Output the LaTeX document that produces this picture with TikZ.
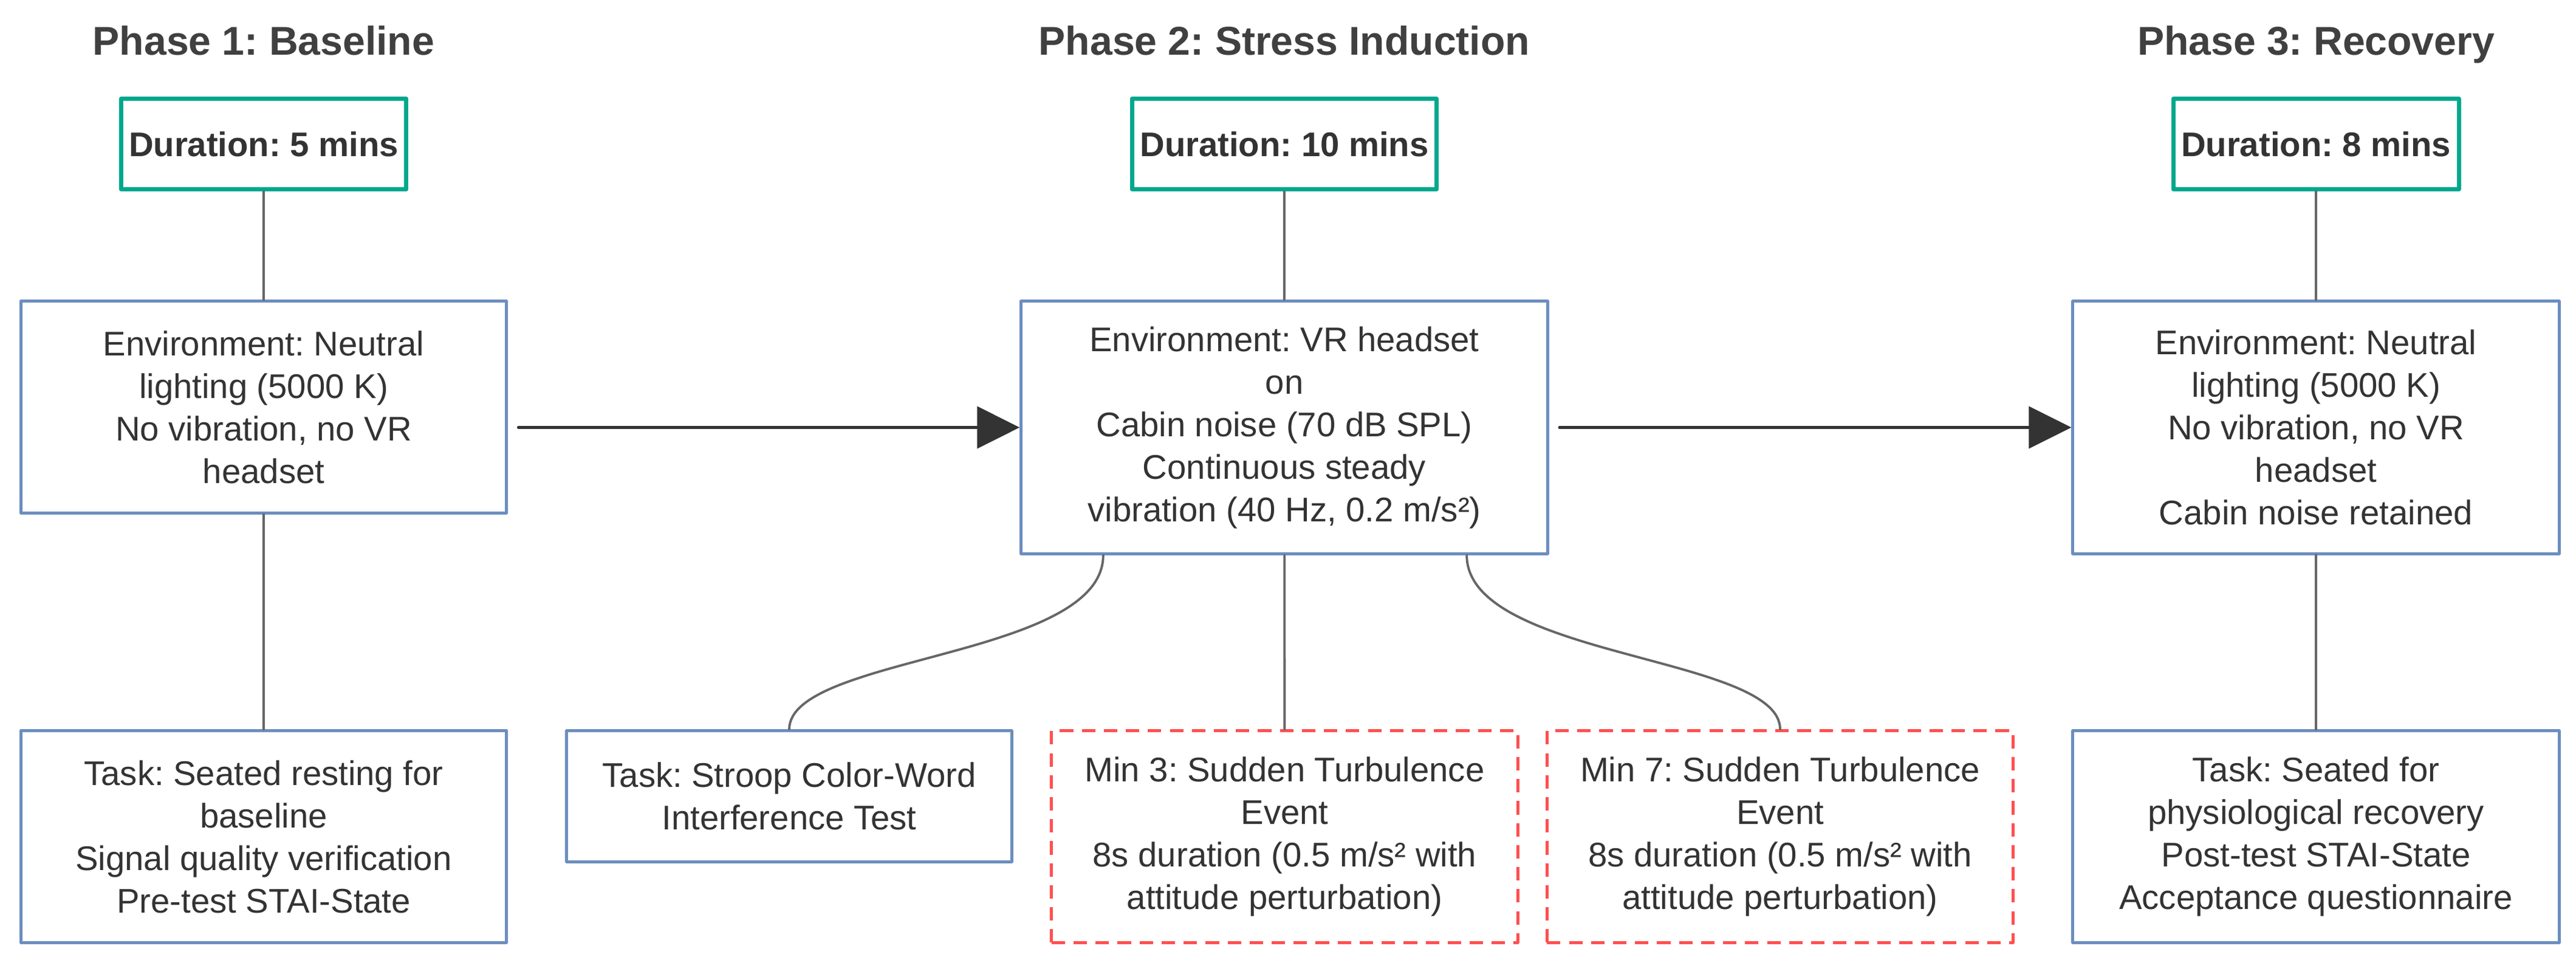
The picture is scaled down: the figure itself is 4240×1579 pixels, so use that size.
\documentclass[tikz,border=0pt]{standalone}
\usepackage{fontspec}
\setmainfont{Liberation Sans}
\frenchspacing
\usetikzlibrary{arrows.meta}
\definecolor{tealbox}{HTML}{00A88E}
\definecolor{bluebox}{HTML}{6C8EBF}
\definecolor{redbox}{HTML}{FF5050}
\definecolor{linegray}{HTML}{666666}
\definecolor{arrowgray}{HTML}{333333}
\definecolor{txt}{HTML}{333333}
\definecolor{titlegray}{HTML}{404040}
\begin{document}
\begin{tikzpicture}[x=0.01cm, y=-0.01cm, font=\fontsize{16}{19.9}\selectfont, line join=round, line cap=round,>={Triangle[length=19.9pt,width=19.6pt]},
	title/.style={anchor=base, text=titlegray, font=\fontsize{18.8}{22}\selectfont\bfseries},
	dur/.style={draw=tealbox, line width=2pt, text=txt, inner xsep=3.7pt, minimum height=1.49cm, font=\fontsize{16}{19.9}\selectfont\bfseries},
	env/.style={draw=bluebox, line width=1.42pt, text=txt, align=center},
	turb/.style={draw=redbox, line width=1.42pt, line cap=butt, dash pattern=on 6.3pt off 4pt, text=txt, align=center, minimum width=7.67cm, minimum height=3.48cm},
	link/.style={draw=linegray, line width=1.1pt},
	flow/.style={->, draw=arrowgray, line width=1.2pt, shorten <=4.8pt}]
			\def\xa{434} \def\xb{2114} \def\xc{3812}  % phase columns
			\path[use as bounding box, fill=white] (0,0) rectangle (4240,1579);
			\node[title] (title1) at (\xa,91) {Phase 1: Baseline};
			\node[title] (title2) at (\xb,91) {Phase 2: Stress Induction};
			\node[title] (title3) at (\xc,91) {Phase 3: Recovery};
			\node[dur] (dur1) at (\xa,237) {Duration: 5 mins};
			\node[dur] (dur2) at (\xb,237) {Duration: 10 mins};
			\node[dur] (dur3) at (\xc,237) {Duration: 8 mins};
			\node[env, minimum width=7.99cm, minimum height=3.48cm] (env1) at (\xa,670) {Environment: Neutral\\lighting (5000 K)\\No vibration, no VR\\headset};
			\node[env, minimum width=8.66cm, minimum height=4.15cm] (env2) at (\xb,703.5) {Environment: VR headset\\on\\Cabin noise (70 dB SPL)\\Continuous steady\\vibration (40 Hz, 0.2 m/s²)};
			\node[env, minimum width=8cm, minimum height=4.15cm] (env3) at (\xc,703.5) {Environment: Neutral\\lighting (5000 K)\\No vibration, no VR\\headset\\Cabin noise retained};
			\node[env, minimum width=7.99cm, minimum height=3.48cm] (task1) at (\xa,1377) {Task: Seated resting for\\baseline\\Signal quality verification\\Pre-test STAI-State};
			\node[env, minimum width=7.32cm, minimum height=2.15cm] (stroop) at (1299,1310.5) {Task: Stroop Color-Word\\Interference Test};
			\node[turb] (turb3) at (2114.5,1377) {Min 3: Sudden Turbulence\\Event\\8s duration (0.5 m/s² with\\attitude perturbation)};
			\node[turb] (turb7) at (2930,1377) {Min 7: Sudden Turbulence\\Event\\8s duration (0.5 m/s² with\\attitude perturbation)};
			\node[env, minimum width=8cm, minimum height=3.48cm] (task3) at (\xc,1377) {Task: Seated for\\physiological recovery\\Post-test STAI-State\\Acceptance questionnaire};
			\draw[link] (dur1) -- (env1) -- (task1);
			\draw[link] (dur2) -- (env2) -- (turb3);
			\draw[link] (dur3) -- (env3) -- (task3);
			\draw[link] ([xshift=-2.98cm]env2.south) .. controls +(0,170) and +(0,-122) .. (stroop.north);
			\draw[link] ([xshift=3cm]env2.south) .. controls +(0,170) and +(0,-122) .. (turb7.north);
			\draw[flow] (env1.east |- env2.west) -- (env2.west);
			\draw[flow] (env2.east) -- (env3.west);
		\end{tikzpicture}
\end{document}
